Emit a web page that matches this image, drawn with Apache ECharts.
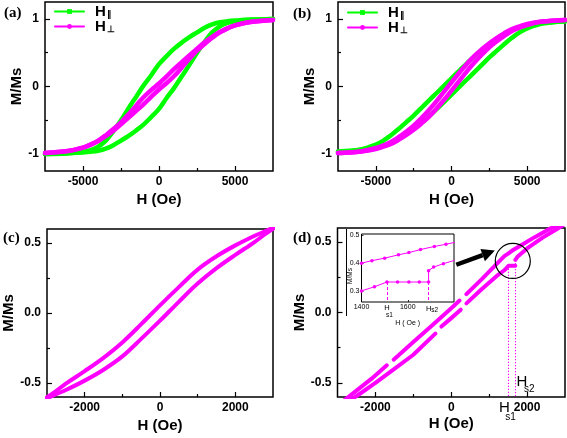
<!DOCTYPE html>
<html><head><meta charset="utf-8">
<script src="https://cdn.jsdelivr.net/npm/echarts@6/dist/echarts.min.js"></script>
<style>html,body{margin:0;padding:0;background:#fff}#c{width:567px;height:438px}</style>
</head><body><div id="c"></div>
<script>
// ---------- DATA ----------
// Panels (a) and (b): field grid (Oe)
const abH = [-7500,-6000,-5000,-4500,-4000,-3500,-3000,-2500,-2000,-1500,-1000,-500,0,500,1000,1500,2000,2500,3000,3500,4000,4500,5000,6000,7500];
// (a) H parallel (green)
const aParUp = [-1.0,-0.985,-0.965,-0.94,-0.89,-0.80,-0.66,-0.50,-0.32,-0.15,0.02,0.17,0.33,0.45,0.56,0.65,0.73,0.80,0.87,0.92,0.95,0.965,0.975,0.99,1.0];
const aParLo = [-1.0,-0.99,-0.975,-0.965,-0.95,-0.92,-0.87,-0.80,-0.73,-0.65,-0.56,-0.45,-0.33,-0.17,-0.02,0.15,0.32,0.50,0.66,0.80,0.89,0.94,0.965,0.985,1.0];
// (a) H perpendicular (magenta)
const aPerpUp = [-0.985,-0.955,-0.905,-0.86,-0.80,-0.72,-0.63,-0.53,-0.41,-0.28,-0.155,-0.05,0.045,0.15,0.26,0.36,0.46,0.56,0.655,0.735,0.805,0.86,0.905,0.955,0.985];
const aPerpLo = [-0.985,-0.955,-0.905,-0.86,-0.805,-0.735,-0.655,-0.56,-0.46,-0.36,-0.26,-0.15,-0.045,0.05,0.155,0.28,0.41,0.53,0.63,0.72,0.80,0.86,0.905,0.955,0.985];
// (b) H parallel (green)
const bParUp = [-0.97,-0.93,-0.86,-0.80,-0.72,-0.63,-0.53,-0.43,-0.32,-0.21,-0.10,0.01,0.12,0.23,0.34,0.44,0.54,0.63,0.71,0.78,0.84,0.88,0.91,0.94,0.96];
const bParLo = [-0.96,-0.94,-0.91,-0.88,-0.84,-0.78,-0.71,-0.63,-0.54,-0.44,-0.34,-0.23,-0.12,-0.01,0.10,0.21,0.32,0.43,0.53,0.63,0.72,0.80,0.86,0.93,0.97];
// (b) H perpendicular (magenta)
const bPerpUp = [-0.985,-0.96,-0.91,-0.87,-0.82,-0.75,-0.67,-0.58,-0.47,-0.35,-0.22,-0.08,0.06,0.20,0.33,0.45,0.55,0.64,0.72,0.79,0.85,0.89,0.925,0.96,0.985];
const bPerpLo = [-0.985,-0.96,-0.925,-0.89,-0.85,-0.79,-0.72,-0.64,-0.55,-0.45,-0.33,-0.20,-0.06,0.08,0.22,0.35,0.47,0.58,0.67,0.75,0.82,0.87,0.91,0.96,0.985];
// (c)
const cH = [-3200,-2800,-2500,-2000,-1500,-1000,-500,0,500,1000,1500,2000,2500,2800,3200];
const cUp = [-0.64,-0.565,-0.505,-0.415,-0.32,-0.21,-0.08,0.055,0.185,0.31,0.405,0.483,0.55,0.585,0.635];
const cLo = [-0.635,-0.585,-0.55,-0.483,-0.405,-0.31,-0.185,-0.055,0.08,0.21,0.32,0.415,0.505,0.565,0.64];
// (d) main loop, null = break in the measured curve
const dUpH = [-2900,-2500,-2100,-1700,null,-1520,-1000,-500,0,220,null,400,800,1200,1400,1500,1600,1800,2200,2600,3000];
const dUpM = [-0.64,-0.555,-0.47,-0.375,null,-0.335,-0.21,-0.09,0.03,0.085,null,0.13,0.235,0.345,0.40,0.418,0.438,0.47,0.535,0.595,0.64];
const dLoH = [-2700,-2400,-2000,-1500,-1000,-420,null,-260,0,250,null,400,800,1200,1400,1456,1510,1600,1690,null,1690,1712,1754,1800,2000,2400,2800,3000];
const dLoM = [-0.63,-0.575,-0.5,-0.4,-0.3,-0.15,null,-0.1,-0.04,0.02,null,0.065,0.165,0.26,0.30,0.315,0.332,0.332,0.332,null,0.373,0.386,0.398,0.41,0.455,0.53,0.595,0.63];
// (d) inset
const inUpH = [1400,1445,1500,1560,1605,1655,1715,1765,1810];
const inUpM = [0.400,0.409,0.418,0.430,0.438,0.449,0.460,0.468,0.476];
const inLoH = [1400,1456,1510,1556,1605,1650,1690,1690,1712,1754,1802];
const inLoM = [0.300,0.315,0.332,0.332,0.332,0.332,0.332,0.373,0.386,0.398,0.410];
const HS1 = 1510, HS2 = 1690, HS1_M = 0.332, HS2_M = 0.373;
// ticks
const abXMajor = [-5000,0,5000], abXMinor = [-2500,2500];
const abYMajor = [-1,0,1], abYMinor = [-0.5,0.5];
const cdXMajor = [-2000,0,2000], cdXMinor = [-1000,1000];
const cdYMajor = [-0.5,0,0.5], cdYMinor = [-0.25,0.25];
const inXLabels = [1400,HS1,1600,HS2], inYMajor = [0.3,0.4,0.5];

// ---------- BUILD ----------
const GREEN = '#00ff00', MAG = '#ff00ff', FONT = 'Liberation Sans';
const grids = [], xAxes = [], yAxes = [], series = [];
function panel(p) {
  const gi = grids.length, z = p.z || 0;
  grids.push({left:p.left, top:p.top, width:p.width, height:p.height, show:true,
    borderColor:'#000', borderWidth:p.bw || 1.5, backgroundColor:'transparent', z:z});
  const xi = xAxes.length, yi = yAxes.length;
  const tickStyle = {color:'#000', width:p.tw || 1.2};
  const nameStyle = {fontSize:p.nfs, fontWeight:p.nfw, fontFamily:FONT, color:'#000'};
  const noLine = {show:false, onZero:false};
  xAxes.push({type:'value', gridIndex:gi, min:p.xr[0], max:p.xr[1], position:'bottom', z:z,
    axisLine:noLine, splitLine:{show:false},
    axisTick:{show:true, inside:true, length:p.tl, customValues:p.xMajor, lineStyle:tickStyle},
    axisLabel:{customValues:p.xLabels || p.xMajor, formatter:p.xFmt || (v => String(v)), margin:p.xm,
      fontSize:p.fs, fontWeight:p.fw, fontFamily:FONT, color:'#000', rich:p.xRich},
    name:p.xName, nameLocation:'middle', nameGap:p.xng, nameTextStyle:nameStyle});
  yAxes.push({type:'value', gridIndex:gi, min:p.yr[0], max:p.yr[1], position:'left', z:z,
    axisLine:noLine, splitLine:{show:false},
    axisTick:{show:true, inside:true, length:p.tl, customValues:p.yMajor, lineStyle:tickStyle},
    axisLabel:{customValues:p.yMajor, formatter:p.yFmt || (v => String(v)), margin:p.ym,
      fontSize:p.fs, fontWeight:p.fw, fontFamily:FONT, color:'#000'},
    name:p.yName, nameLocation:'middle', nameGap:p.yng, nameTextStyle:nameStyle});
  if (p.xMinor) xAxes.push({type:'value', gridIndex:gi, min:p.xr[0], max:p.xr[1], position:'bottom', z:z,
    axisLine:noLine, splitLine:{show:false}, axisLabel:{show:false},
    axisTick:{show:true, inside:true, length:3, customValues:p.xMinor, lineStyle:tickStyle}});
  if (p.yMinor) yAxes.push({type:'value', gridIndex:gi, min:p.yr[0], max:p.yr[1], position:'left', z:z,
    axisLine:noLine, splitLine:{show:false}, axisLabel:{show:false},
    axisTick:{show:true, inside:true, length:3, customValues:p.yMinor, lineStyle:tickStyle}});
  return {xi, yi};
}
function pairs(H, M) { return H.map((h, i) => [h, M[i]]); }
function segments(H, M) {
  const out = []; let cur = [];
  H.forEach((h, i) => { if (h === null) { out.push(cur); cur = []; } else cur.push([h, M[i]]); });
  out.push(cur); return out;
}
function line(ax, data, color, name, width, extra) {
  series.push(Object.assign({type:'line', name:name, xAxisIndex:ax.xi, yAxisIndex:ax.yi, data:data,
    showSymbol:false, symbol:'circle', symbolSize:5, smooth:0.35, animation:false, silent:true,
    itemStyle:{color:color}, lineStyle:{color:color, width:width, cap:'round', join:'round'}}, extra || {}));
}
const bigAxis = {tl:5, fs:12, fw:'bold', nfs:15, nfw:'bold', xm:5, ym:6};
const A = panel(Object.assign({}, bigAxis, {left:45, top:2, width:228, height:169, xr:[-7500,7500], yr:[-1.25,1.25],
  xMajor:abXMajor, xMinor:abXMinor, yMajor:abYMajor, yMinor:abYMinor, xName:'H (Oe)', yName:'M/Ms', xng:21, yng:20}));
const B = panel(Object.assign({}, bigAxis, {left:338, top:2, width:227, height:169, xr:[-7500,7500], yr:[-1.25,1.25],
  xMajor:abXMajor, xMinor:abXMinor, yMajor:abYMajor, yMinor:abYMinor, xName:'H (Oe)', yName:'M/Ms', xng:21, yng:18}));
const C = panel(Object.assign({}, bigAxis, {left:45.5, top:229, width:227.5, height:168, xr:[-3000,3000], yr:[-0.6,0.6],
  xMajor:cdXMajor, xMinor:cdXMinor, yMajor:cdYMajor, yMinor:cdYMinor, yFmt:v => v.toFixed(1),
  xName:'H (Oe)', yName:'M/Ms', xng:21, yng:31}));
const D = panel(Object.assign({}, bigAxis, {left:337.5, top:228, width:227.5, height:169, xr:[-3000,3000], yr:[-0.6,0.6],
  xMajor:cdXMajor, xMinor:cdXMinor, yMajor:cdYMajor, yMinor:cdYMinor, yFmt:v => v.toFixed(1),
  xName:'H (Oe)', yName:'M/Ms', xng:19, yng:30}));
const I = panel({left:361.5, top:234, width:92.5, height:68, xr:[1400,1800], yr:[0.26,0.505], z:5, bw:1, tw:0.8,
  tl:2, fs:7, fw:'normal', nfs:7, nfw:'normal', xm:2, ym:2,
  xMajor:[1400,1600], xLabels:inXLabels, yMajor:inYMajor, yFmt:v => v.toFixed(1),
  xFmt:v => v === HS1 ? '{a|H}\n{b|s1}' : (v === HS2 ? '{c|H}{d|s2}' : String(v)),
  xRich:{a:{fontSize:7.5, fontFamily:FONT, color:'#000'}, b:{fontSize:6.5, fontFamily:FONT, color:'#000', padding:[0,0,0,5]},
         c:{fontSize:7.5, fontFamily:FONT, color:'#000', padding:[0,0,0,7]}, d:{fontSize:6.5, fontFamily:FONT, color:'#000', padding:[3,0,0,0]}},
  xName:'H ( Oe )', yName:'', xng:11, yng:10});

// panel (a)
line(A, pairs(abH, aParUp), GREEN, 'aPar', 4.5, {symbol:'rect'});
line(A, pairs(abH, aParLo), GREEN, 'aPar', 4.5, {symbol:'rect'});
line(A, pairs(abH, aPerpUp), MAG, 'aPerp', 4.5);
line(A, pairs(abH, aPerpLo), MAG, 'aPerp', 4.5);
// panel (b)
line(B, pairs(abH, bParUp), GREEN, 'bPar', 4.5, {symbol:'rect'});
line(B, pairs(abH, bParLo), GREEN, 'bPar', 4.5, {symbol:'rect'});
line(B, pairs(abH, bPerpUp), MAG, 'bPerp', 4.5);
line(B, pairs(abH, bPerpLo), MAG, 'bPerp', 4.5);
// panel (c)
line(C, pairs(cH, cUp), MAG, 'c', 4);
line(C, pairs(cH, cLo), MAG, 'c', 4);
// panel (d)
segments(dUpH, dUpM).forEach(s => line(D, s, MAG, 'd', 4, {smooth:false}));
segments(dLoH, dLoM).forEach(s => line(D, s, MAG, 'd', 4, {smooth:false}));
series.push({type:'line', xAxisIndex:D.xi, yAxisIndex:D.yi, data:[], animation:false, silent:true,
  markLine:{silent:true, symbol:['none','none'], label:{show:false}, animation:false,
    lineStyle:{color:MAG, type:[1.2,1.8], width:1.1},
    data:[[{coord:[HS1, HS1_M]}, {coord:[HS1, -0.6]}], [{coord:[HS2, HS2_M]}, {coord:[HS2, -0.6]}]]}});
// inset
line(I, pairs(inUpH, inUpM), MAG, 'in', 1, {smooth:false, showSymbol:true, symbolSize:3.5, z:6});
line(I, pairs(inLoH, inLoM), MAG, 'in', 1, {smooth:false, showSymbol:true, symbolSize:3.5, z:6,
  markLine:{silent:true, symbol:['none','none'], label:{show:false}, animation:false,
    lineStyle:{color:MAG, type:[3,2], width:1},
    data:[[{coord:[HS1, HS1_M]}, {coord:[HS1, 0.26]}], [{coord:[HS2, HS1_M]}, {coord:[HS2, 0.26]}]]}});

const legRich = {h:{fontSize:15, fontWeight:'bold', fontFamily:FONT, color:'#000', padding:[0,0,0,6]},
                 s:{fontSize:9, fontWeight:'bold', fontFamily:FONT, color:'#000', verticalAlign:'bottom', padding:[5,0,0,1]}};
const legFmt = n => n.endsWith('Par') ? '{h|H}{s|\u2225}' : '{h|H}{s|\u22A5}';
const legendBase = {orient:'vertical', itemWidth:29, itemHeight:6, itemGap:0, formatter:legFmt,
  textStyle:{rich:legRich}, lineStyle:{width:2}, selectedMode:false, padding:0};

const chart = echarts.init(document.getElementById('c'));
chart.setOption({
  animation:false, backgroundColor:'#fff',
  grid:grids, xAxis:xAxes, yAxis:yAxes, series:series,
  legend:[Object.assign({}, legendBase, {data:['aPar','aPerp'], left:54, top:4}),
          Object.assign({}, legendBase, {data:['bPar','bPerp'], left:347, top:5})]
});

// ---------- ANNOTATIONS ----------
const px = (ax, v) => chart.convertToPixel({xAxisIndex:ax.xi, yAxisIndex:ax.yi}, v);
const g = [];
const serif = 'bold 15px "Liberation Serif"';
[['(a)',4,13],['(b)',293,14],['(c)',3,238],['(d)',293,238]].forEach(t =>
  g.push({type:'text', x:t[1], y:t[2], z:10, style:{text:t[0], font:serif, fill:'#000', align:'left', verticalAlign:'middle'}}));
// inset frame background
g.push({type:'rect', z:1, shape:{x:346.5, y:229, width:107.5, height:87}, style:{fill:'#fff', stroke:null}});
g.push({type:'line', z:1, shape:{x1:346.5, y1:229, x2:346.5, y2:316}, style:{stroke:'#000', lineWidth:1}});
g.push({type:'text', x:350.5, y:276, rotation:Math.PI/2, z:7,
  style:{text:'M/Ms', font:'6.5px "Liberation Sans"', fill:'#000', align:'center', verticalAlign:'middle'}});
// circle around the jump
const cc = px(D, [1623, 0.366]);
g.push({type:'circle', z:8, shape:{cx:cc[0], cy:cc[1], r:17.5}, style:{fill:null, stroke:'#000', lineWidth:1.2}});
// arrow
const t0 = px(D, [133, 0.339]), t1 = px(D, [1150, 0.44]);
const dx = t1[0]-t0[0], dy = t1[1]-t0[1], L = Math.hypot(dx, dy), ux = dx/L, uy = dy/L;
const hl = 13, hw = 6.5, bx = t1[0]-ux*hl, by = t1[1]-uy*hl;
g.push({type:'line', z:8, shape:{x1:t0[0], y1:t0[1], x2:bx, y2:by}, style:{stroke:'#000', lineWidth:4.5}});
g.push({type:'polygon', z:8, shape:{points:[[t1[0],t1[1]],[bx-uy*hw,by+ux*hw],[bx+uy*hw,by-ux*hw]]}, style:{fill:'#000'}});
// H_s1 and H_s2 labels
const p1 = px(D, [HS1, -0.6]), p2 = px(D, [HS2, -0.6]);
g.push({type:'text', x:p1[0]-4, y:p1[1]+11, z:9, style:{text:'H', font:'15px "Liberation Sans"', fill:'#000', align:'center', verticalAlign:'middle'}});
g.push({type:'text', x:p1[0]+2, y:p1[1]+20, z:9, style:{text:'s1', font:'10px "Liberation Sans"', fill:'#000', align:'center', verticalAlign:'middle'}});
g.push({type:'text', x:p2[0]+6.5, y:p2[1]-15, z:9, style:{text:'H', font:'15px "Liberation Sans"', fill:'#000', align:'center', verticalAlign:'middle'}});
g.push({type:'text', x:p2[0]+14, y:p2[1]-8, z:9, style:{text:'s2', font:'10px "Liberation Sans"', fill:'#000', align:'center', verticalAlign:'middle'}});
chart.setOption({graphic:g});
</script></body></html>
